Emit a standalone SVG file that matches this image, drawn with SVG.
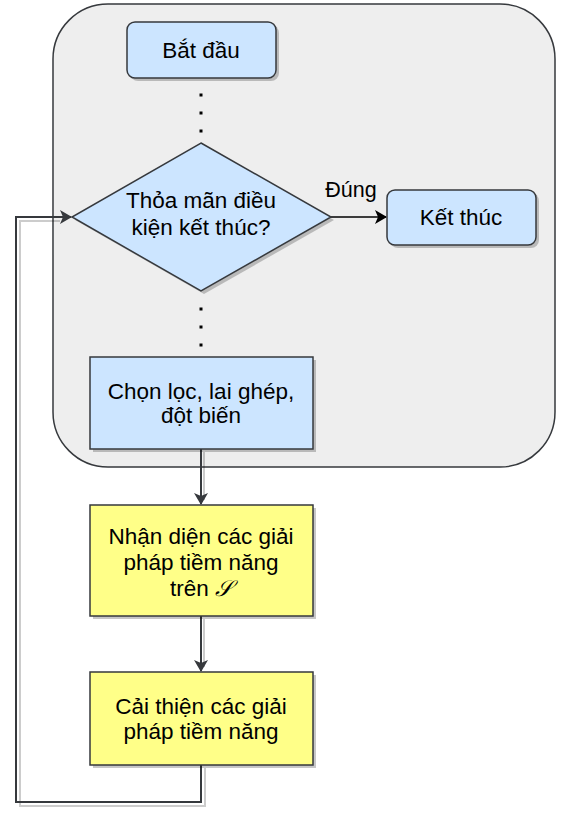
<svg xmlns="http://www.w3.org/2000/svg" width="566" height="819" viewBox="0 0 566 819">
<defs>
<style>
.t{font-family:"Liberation Sans",Arial,sans-serif;font-size:22.5px;fill:#000;text-anchor:middle}
.blue{fill:#cce5ff;stroke:#36393d;stroke-width:1.5}
.yel{fill:#ffff88;stroke:#36393d;stroke-width:1.5}
.sh{fill:#000;opacity:0.22}
.ln{fill:none;stroke:#36393d;stroke-width:2}
.lnsh{fill:none;stroke:#000;stroke-width:2;opacity:0.2}
.dot{fill:#000}
</style>
<marker id="arr" viewBox="0 0 12 14" refX="11" refY="7" markerWidth="12" markerHeight="14" markerUnits="userSpaceOnUse" orient="auto">
<path d="M0,0 L12,7 L0,14 L3,7 Z" fill="#36393d"/>
</marker>
<marker id="arrb" viewBox="0 0 12 14" refX="11" refY="7" markerWidth="12" markerHeight="14" markerUnits="userSpaceOnUse" orient="auto">
<path d="M0,0 L12,7 L0,14 L3,7 Z" fill="#000"/>
</marker>
</defs>
<g id="container">
<rect x="53" y="4" width="502" height="463" rx="55" ry="55" fill="#eeeeee" stroke="#36393d" stroke-width="1.5"/>
</g>
<g id="connectors">
<g id="dots1"><rect class="dot" x="199.5" y="93.5" width="3" height="3"/><rect class="dot" x="199.5" y="111.5" width="3" height="3"/><rect class="dot" x="199.5" y="129.5" width="3" height="3"/></g>
<g id="dots2"><rect class="dot" x="199.5" y="307.5" width="3" height="3"/><rect class="dot" x="199.5" y="325.5" width="3" height="3"/><rect class="dot" x="199.5" y="343.5" width="3" height="3"/></g>
<path class="lnsh" d="M204,452 V500"/>
<path class="ln" d="M201,449 V504" marker-end="url(#arr)"/>
<path class="lnsh" d="M204,619 V667"/>
<path class="ln" d="M201,616 V671" marker-end="url(#arr)"/>
<path class="lnsh" d="M205,768 V806 H20 V221 H60"/>
<path class="ln" d="M201,765 V802 H16 V217 H71" marker-end="url(#arr)"/>
<path d="M331,217 H386" fill="none" stroke="#000" stroke-width="1.5" marker-end="url(#arrb)"/>
<text class="t" x="351" y="197" style="font-size:21.5px">Đúng</text>
</g>
<g id="start">
<rect class="sh" x="130" y="25" width="149" height="56" rx="8"/>
<rect class="blue" x="127" y="22" width="149" height="56" rx="8"/>
<text class="t" x="201" y="58">Bắt đầu</text>
</g>
<g id="decision">
<path class="sh" d="M204,146 L334,220 L204,294 L75,220 Z"/>
<path class="blue" d="M201,143 L331,217 L201,291 L72,217 Z"/>
<text class="t" x="201" y="208">Thỏa mãn điều</text>
<text class="t" x="201" y="235">kiện kết thúc?</text>
</g>
<g id="end">
<rect class="sh" x="390" y="193" width="149" height="55" rx="8"/>
<rect class="blue" x="387" y="190" width="149" height="55" rx="8"/>
<text class="t" x="461" y="225">Kết thúc</text>
</g>
<g id="select">
<rect class="sh" x="93" y="360" width="223" height="92"/>
<rect class="blue" x="90" y="357" width="223" height="92"/>
<text class="t" x="201" y="399">Chọn lọc, lai ghép,</text>
<text class="t" x="201" y="423">đột biến</text>
</g>
<g id="identify">
<rect class="sh" x="93" y="508" width="223" height="111"/>
<rect class="yel" x="90" y="505" width="223" height="111"/>
<text class="t" x="201" y="544">Nhận diện các giải</text>
<text class="t" x="201" y="570">pháp tiềm năng</text>
<text class="t" x="201" y="596">trên <tspan font-family="'DejaVu Serif',serif" font-style="italic">𝒮</tspan></text>
</g>
<g id="improve">
<rect class="sh" x="93" y="675" width="223" height="93"/>
<rect class="yel" x="90" y="672" width="223" height="93"/>
<text class="t" x="201" y="714">Cải thiện các giải</text>
<text class="t" x="201" y="739">pháp tiềm năng</text>
</g>
</svg>
